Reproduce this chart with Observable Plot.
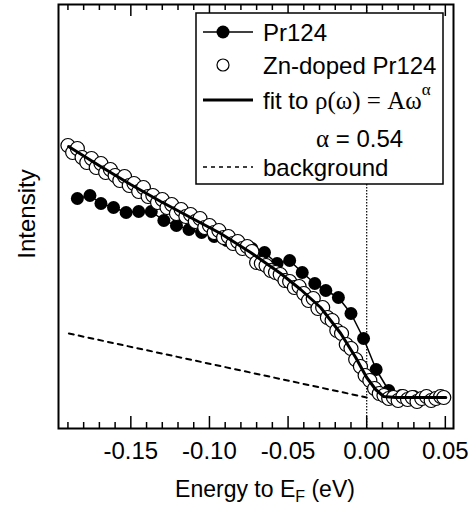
<!DOCTYPE html>
<html>
<head>
<meta charset="utf-8">
<script src="https://cdn.jsdelivr.net/npm/d3@7"></script>
<script src="https://cdn.jsdelivr.net/npm/@observablehq/plot@0.6"></script>
<style>
  html, body { margin: 0; padding: 0; background: #fff; }
  #chart { width: 472px; height: 508px; }
</style>
</head>
<body>
<div id="chart"></div>
<script>
// Energy (eV) and intensity (arb. units)
const prX = [-0.184,-0.176,-0.169,-0.161,-0.153,-0.145,-0.137,-0.129,-0.121,-0.113,-0.105,-0.097,-0.089,-0.081,-0.073,-0.065,-0.057,-0.049,-0.041,-0.033,-0.026,-0.018,-0.010,-0.002,0.006,0.014,0.022,0.030,0.038,0.046];
const prY = [230,233,225,221,216,217,217,208,203,199,196,192,188,183,180,176,165,168,156,145,138,131,115,90,59,38,33,32,32,31];

const znX = [-0.190,-0.187,-0.184,-0.181,-0.178,-0.175,-0.172,-0.169,-0.166,-0.163,-0.160,-0.157,-0.154,-0.151,-0.148,-0.145,-0.142,-0.139,-0.136,-0.133,-0.130,-0.127,-0.124,-0.121,-0.118,-0.115,-0.112,-0.109,-0.106,-0.103,-0.100,-0.097,-0.094,-0.091,-0.088,-0.085,-0.082,-0.079,-0.076,-0.073,-0.070,-0.067,-0.064,-0.061,-0.058,-0.055,-0.052,-0.049,-0.046,-0.043,-0.040,-0.037,-0.034,-0.031,-0.028,-0.025,-0.022,-0.019,-0.016,-0.013,-0.010,-0.007,-0.004,-0.001,0.002,0.005,0.008,0.011,0.014,0.017,0.020,0.023,0.026,0.029,0.032,0.035,0.038,0.041,0.044,0.047,0.049];
const znY = [283,276,280,271,266,270,261,265,256,259,253,248,252,243,245,237,241,232,233,226,229,221,224,215,219,212,214,207,210,201,203,196,198,191,192,185,187,180,182,177,166,165,163,158,156,154,148,147,141,142,135,128,130,120,121,111,108,98,95,84,80,69,62,53,48,40,35,33,30,31,28,32,29,31,27,30,32,28,30,32,31];

const fitX = [-0.1896,-0.1692,-0.1501,-0.1310,-0.1120,-0.0929,-0.0738,-0.0547,-0.0420,-0.0293,-0.0165,-0.0070,0.0000,0.0057,0.0108,0.0184,0.0503];
const fitY = [282,262,244,227,211,195,176,155,139,121,95,71,51,39,32,31,31];

const bgX = [-0.1894, 0.0];
const bgY = [95, 31];

const majorTicks = [-0.15, -0.10, -0.05, 0.00, 0.05];
const minorTicks = [-0.19,-0.18,-0.17,-0.16,-0.14,-0.13,-0.12,-0.11,-0.09,-0.08,-0.07,-0.06,-0.04,-0.03,-0.02,-0.01,0.01,0.02,0.03,0.04];

const pr = prX.map((x, i) => ({x, y: prY[i]}));
const zn = znX.map((x, i) => ({x, y: znY[i]}));
const fit = fitX.map((x, i) => ({x, y: fitY[i]}));
const bg = bgX.map((x, i) => ({x, y: bgY[i]}));

const FONT = "'Liberation Sans', Arial, Helvetica, sans-serif";
const SERIF = "'Liberation Serif', 'Times New Roman', serif";

const chart = Plot.plot({
  width: 472,
  height: 508,
  marginLeft: 58,
  marginRight: 19,
  marginTop: 4,
  marginBottom: 80,
  style: {fontFamily: FONT, background: "white", color: "black"},
  x: {domain: [-0.196, 0.0552]},
  y: {domain: [0, 424], axis: null},
  marks: [
    Plot.ruleX([0], {stroke: "black", strokeWidth: 1.2, strokeDasharray: "1.5,1.5"}),
    Plot.line(bg, {x: "x", y: "y", stroke: "black", strokeWidth: 2, strokeDasharray: "5,5"}),
    Plot.line(pr, {x: "x", y: "y", stroke: "black", strokeWidth: 1.5}),
    Plot.dot(pr, {x: "x", y: "y", r: 6.5, fill: "black", stroke: "none"}),
    Plot.dot(zn, {x: "x", y: "y", r: 7, fill: "white", stroke: "black", strokeWidth: 1.2}),
    Plot.line(fit, {x: "x", y: "y", stroke: "black", strokeWidth: 3}),
    Plot.ruleX(majorTicks, {stroke: "black", strokeWidth: 1.5, insetTop: 412}),
    Plot.ruleX(minorTicks, {stroke: "black", strokeWidth: 1.5, insetTop: 418}),
    Plot.ruleX(majorTicks, {stroke: "black", strokeWidth: 1.5, insetBottom: 412}),
    Plot.ruleX(minorTicks, {stroke: "black", strokeWidth: 1.5, insetBottom: 418}),
    Plot.frame({stroke: "black", strokeWidth: 2}),
    Plot.axisX({ticks: majorTicks, tickSize: 0, tickPadding: 13, fontSize: 24, tickFormat: d => d.toFixed(2), label: null})
  ]
});

document.getElementById("chart").appendChild(chart);

const svg = d3.select(chart);

// y-axis title
svg.append("text")
  .attr("transform", "translate(35,214) rotate(-90)")
  .attr("text-anchor", "middle")
  .attr("font-family", FONT).attr("font-size", 24).attr("fill", "black")
  .text("Intensity");

// x-axis title with subscript
const xt = svg.append("text")
  .attr("x", 265).attr("y", 497)
  .attr("text-anchor", "middle")
  .attr("font-family", FONT).attr("font-size", 23).attr("fill", "black");
xt.append("tspan").text("Energy to E");
xt.append("tspan").attr("dy", 5).attr("font-size", 16).text("F");
xt.append("tspan").attr("dy", -5).text(" (eV)");

// legend
const lg = svg.append("g").attr("font-family", FONT).attr("font-size", 24)
  .attr("fill", "black").attr("text-anchor", "start");
lg.append("rect").attr("x", 196).attr("y", 13).attr("width", 247).attr("height", 171)
  .attr("fill", "white").attr("stroke", "black").attr("stroke-width", 1.5);

lg.append("line").attr("x1", 203).attr("x2", 253).attr("y1", 32).attr("y2", 32).attr("stroke", "black").attr("stroke-width", 1.5);
lg.append("circle").attr("cx", 223).attr("cy", 32).attr("r", 6.5).attr("fill", "black");
lg.append("text").attr("x", 263).attr("y", 41).text("Pr124");

lg.append("circle").attr("cx", 223).attr("cy", 65).attr("r", 6).attr("fill", "white").attr("stroke", "black").attr("stroke-width", 1.2);
lg.append("text").attr("x", 263).attr("y", 74).text("Zn-doped Pr124");

lg.append("line").attr("x1", 203).attr("x2", 253).attr("y1", 100).attr("y2", 100).attr("stroke", "black").attr("stroke-width", 3);
const ft = lg.append("text").attr("x", 263).attr("y", 109);
ft.append("tspan").text("fit to ");
ft.append("tspan").attr("font-family", SERIF).attr("font-size", 25).text("\u03C1(\u03C9) = A\u03C9");
ft.append("tspan").attr("font-family", SERIF).attr("font-size", 17).attr("dy", -14).text("\u03B1");

const at = lg.append("text").attr("x", 316).attr("y", 147);
at.append("tspan").attr("font-family", SERIF).attr("font-size", 25).text("\u03B1");
at.append("tspan").text(" = 0.54");

lg.append("line").attr("x1", 203).attr("x2", 253).attr("y1", 167).attr("y2", 167).attr("stroke", "black").attr("stroke-width", 1.5).attr("stroke-dasharray", "4,4");
lg.append("text").attr("x", 263).attr("y", 176).text("background");
</script>
</body>
</html>
